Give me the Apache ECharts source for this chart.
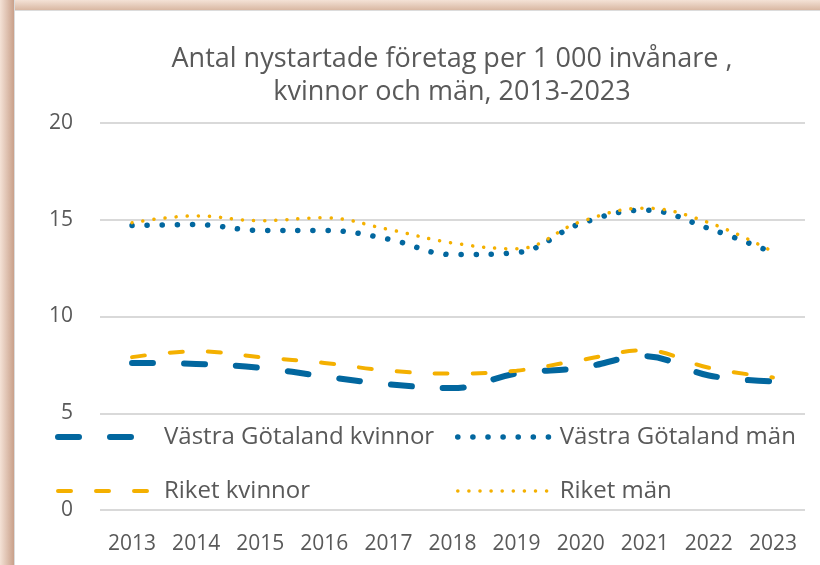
<!DOCTYPE html>
<html>
<head>
<meta charset="utf-8">
<script src="https://cdn.jsdelivr.net/npm/echarts@6/dist/echarts.min.js"></script>
<style>
  html, body { margin: 0; padding: 0; background: #fff; }
  #chart { position: absolute; left: 0; top: 0; width: 820px; height: 565px; }
  .frameTop { position: absolute; left: 0; top: 0; width: 820px; height: 10px;
    background: linear-gradient(to bottom, #f4e2d6, #d9b8a3); border-bottom: 1px solid #dcdcdc; }
  .frameLeft { position: absolute; left: 0; top: 0; width: 14px; height: 565px;
    background: linear-gradient(to right, #f4e2d6, #c9a08a); border-right: 1px solid #dcdcdc; }
</style>
</head>
<body>
<div id="chart"></div>
<div class="frameTop"></div>
<div class="frameLeft"></div>
<script>
var years = ['2013', '2014', '2015', '2016', '2017', '2018', '2019', '2020', '2021', '2022', '2023'];
var vgKvinnor = [7.6, 7.55, 7.35, 6.9, 6.5, 6.3, 7.05, 7.35, 7.95, 6.95, 6.65];
var vgMan = [14.7, 14.75, 14.45, 14.45, 14.0, 13.2, 13.3, 14.8, 15.5, 14.55, 13.3];
var riketKvinnor = [7.9, 8.2, 7.9, 7.6, 7.2, 7.05, 7.2, 7.75, 8.25, 7.35, 6.85];
var riketMan = [14.85, 15.2, 14.95, 15.1, 14.5, 13.8, 13.5, 14.9, 15.6, 14.85, 13.35];

var blue = '#02679f';
var orange = '#f4b000';
var textColor = '#595959';
var font = 'Open Sans';

var chart = echarts.init(document.getElementById('chart'));

function lineSeries(name, data, color, width, dash) {
  return {
    name: name,
    type: 'line',
    data: data,
    smooth: 0.4,
    symbol: 'none',
    lineStyle: { color: color, width: width, type: dash, cap: 'round' },
    itemStyle: { color: color }
  };
}

var legendText = { color: textColor, fontSize: 24, fontFamily: font, padding: [0, 0, 0, 1] };
// only the line in the legend, no marker
var legendLine = { width: 'inherit', type: 'inherit', cap: 'round' };

var option = {
  animation: false,
  title: {
    text: 'Antal nystartade företag per 1 000 invånare ,\nkvinnor och män, 2013-2023',
    left: 447,
    textAlign: 'center',
    top: 38,
    textStyle: { color: textColor, fontSize: 27, fontWeight: 'normal', fontFamily: font, lineHeight: 33 }
  },
  legend: [{
    data: ['Västra Götaland kvinnor', 'Riket kvinnor'],
    orient: 'vertical',
    left: 50,
    top: 420,
    itemWidth: 100,
    itemHeight: 24,
    itemGap: 30,
    itemStyle: { opacity: 0 },
    lineStyle: legendLine,
    textStyle: legendText
  }, {
    data: ['Västra Götaland män', 'Riket män'],
    orient: 'vertical',
    left: 450,
    top: 420,
    itemWidth: 96,
    itemHeight: 24,
    itemGap: 30,
    itemStyle: { opacity: 0 },
    lineStyle: legendLine,
    textStyle: legendText
  }],
  grid: { left: 100, right: 15, top: 123, bottom: 55 },
  xAxis: {
    type: 'category',
    data: years,
    axisLine: { show: false },
    axisTick: { show: false },
    axisLabel: { color: textColor, fontSize: 21, fontFamily: font, margin: 24 }
  },
  yAxis: {
    type: 'value',
    min: 0,
    max: 20,
    interval: 5,
    axisLine: { show: false },
    axisTick: { show: false },
    axisLabel: { color: textColor, fontSize: 21, fontFamily: font, margin: 27 },
    splitLine: { lineStyle: { color: '#d9d9d9', width: 2 } }
  },
  series: [
    lineSeries('Västra Götaland kvinnor', vgKvinnor, blue, 6, [21, 31]),
    lineSeries('Västra Götaland män', vgMan, blue, 5.5, [0.1, 15]),
    lineSeries('Riket kvinnor', riketKvinnor, orange, 4, [13, 25]),
    lineSeries('Riket män', riketMan, orange, 3.5, [0.1, 11])
  ]
};

chart.setOption(option);
</script>
</body>
</html>
